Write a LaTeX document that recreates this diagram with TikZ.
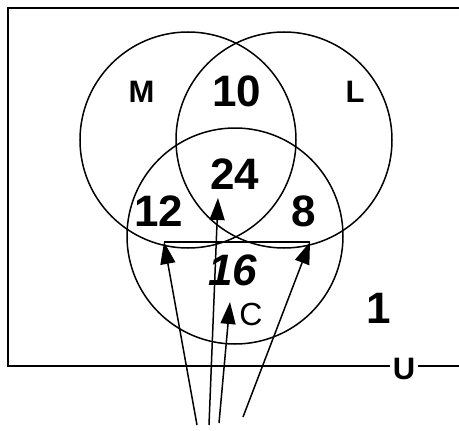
\documentclass[tikz,border=0pt]{standalone}
\usepackage{fontspec}
\setmainfont{Liberation Sans}
\usetikzlibrary{arrows.meta}

\begin{document}
\begin{tikzpicture}[x=1pt, y=-1pt, >={Triangle[length=22pt,width=15pt]},
    setline/.style={line width=1.5pt},
    boxline/.style={line width=1.8pt},
    num/.style={font=\fontsize{44}{44}\selectfont\bfseries, inner sep=0pt},
    setname/.style={font=\fontsize{31}{31}\selectfont\bfseries, inner sep=0pt}]
    % --- 1. Parameters ---
    \def\rad{108}
    \useasboundingbox (0,0) rectangle (459,431);

    % --- 2. Universe box ---
    \node[setname, inner xsep=3pt] (U) at (404,369) {U};
    \draw[boxline] (459,8) -- (8,8) -- (8,366) -- (U.west |- 0,366);
    \draw[boxline] (U.east |- 0,366) -- (459,366);

    % --- 3. The three sets ---
    \draw[setline] (188,140) circle (\rad);  % M
    \draw[setline] (284,140) circle (\rad);  % L
    \draw[setline] (235,236) circle (\rad);  % C

    \node[setname] (M) at (141.5,92) {M};
    \node[setname] (L) at (355,92) {L};
    \node[font=\fontsize{32}{32}\selectfont, inner sep=0pt] (C) at (251,314) {C};

    % --- 4. Counts ---
    \node[num] (n10) at (237,91) {10};
    \node[num] (n24) at (235,174) {24};
    \node[num] (n12) at (159,211) {12};
    \node[num] (n8)  at (303.5,211) {8};
    \node[num, font=\fontsize{44}{44}\selectfont\bfseries\itshape] (n16) at (233,270) {16};
    \node[num] (n1)  at (379,308) {1};

    % --- 5. Pointers ---
    \coordinate (s12) at (197,425);
    \coordinate (s24) at (209,425);
    \coordinate (sC)  at (219,423);
    \coordinate (s8)  at (243,417);
    \coordinate (t12) at (164,242);
    \coordinate (t24) at (218,198);
    \coordinate (tC)  at (230,302);
    \coordinate (t8)  at (310,242);

    \draw[setline, ->] (s12) -- (t12);
    \draw[setline, ->] (s24) -- (t24);
    \draw[setline, ->] (sC) -- (tC);
    \draw[setline, ->] (s8) -- (t8);
    \draw[setline] (t12) -- (t8);
\end{tikzpicture}
\end{document}
